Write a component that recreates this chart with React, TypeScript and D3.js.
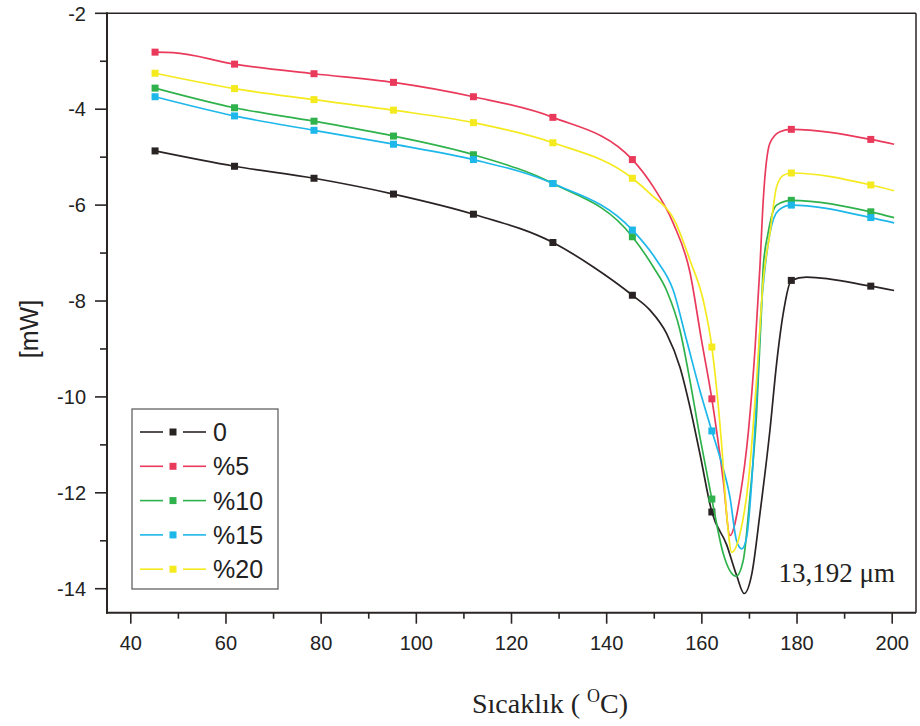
import React from "react";
import * as d3 from "d3";

// ---- data ----
const MARKER_T = [45.1, 61.8, 78.5, 95.2, 112.0, 128.7, 145.4, 162.1, 178.8, 195.5];

const T0 = [45.1, 61.8, 78.5, 95.2, 112.0, 128.7, 137.2, 145.4, 149.1, 152.6, 155.4, 157.5, 159.6, 162.1, 165.2, 167.3, 168.9, 170.5, 172.2, 174.3, 175.7, 177.1, 178.8, 182.0, 195.5, 200.4];
const V0 = [-4.87, -5.19, -5.44, -5.77, -6.19, -6.78, -7.29, -7.88, -8.19, -8.68, -9.38, -10.21, -11.19, -12.40, -13.08, -13.72, -14.1, -13.69, -12.44, -10.7, -9.31, -8.26, -7.57, -7.5, -7.69, -7.78];

const T5 = [45.1, 48.9, 61.8, 78.5, 95.2, 112.0, 128.7, 145.4, 149.8, 154.0, 157.5, 159.9, 162.1, 164.5, 165.9, 168.0, 169.8, 171.2, 172.2, 172.9, 174.3, 176.4, 178.8, 195.5, 200.4];
const V5 = [-2.81, -2.82, -3.06, -3.26, -3.44, -3.74, -4.17, -5.05, -5.62, -6.38, -7.4, -8.8, -10.04, -11.74, -12.89, -12.09, -10.7, -8.96, -7.29, -5.9, -4.71, -4.47, -4.42, -4.63, -4.73];

const T10 = [45.1, 61.8, 78.5, 95.2, 112.0, 128.7, 145.4, 149.8, 152.6, 155.4, 157.5, 159.6, 162.1, 164.5, 167.2, 168.7, 170.1, 171.5, 172.5, 172.9, 173.9, 175.7, 178.8, 195.5, 200.4];
const V10 = [-3.56, -3.97, -4.25, -4.56, -4.95, -5.55, -6.66, -7.29, -7.78, -8.61, -9.66, -10.84, -12.13, -13.27, -13.74, -13.41, -12.09, -10.35, -8.26, -7.29, -6.59, -6.0, -5.9, -6.14, -6.26];

const T15 = [45.1, 61.8, 78.5, 95.2, 112.0, 128.7, 145.4, 150.5, 154.0, 156.8, 159.6, 162.1, 163.8, 165.9, 167.3, 168.4, 169.4, 170.5, 171.5, 172.5, 173.3, 174.3, 176.1, 178.8, 195.5, 200.4];
const V15 = [-3.74, -4.14, -4.44, -4.73, -5.05, -5.55, -6.52, -7.15, -7.78, -8.82, -9.87, -10.71, -11.26, -12.09, -13.0, -13.17, -12.93, -11.74, -10.0, -8.13, -7.29, -6.59, -6.11, -6.0, -6.26, -6.37];

const T20 = [45.1, 61.8, 78.5, 95.2, 112.0, 128.7, 145.4, 149.1, 154.4, 157.5, 160.3, 162.1, 164.2, 165.2, 166.3, 168.0, 169.8, 171.5, 172.9, 174.3, 175.7, 177.1, 178.8, 195.5, 200.4];
const V20 = [-3.25, -3.57, -3.8, -4.02, -4.28, -4.7, -5.44, -5.76, -6.35, -7.15, -7.99, -8.96, -11.05, -12.44, -13.24, -12.86, -11.74, -9.65, -7.57, -6.59, -5.62, -5.38, -5.33, -5.58, -5.7];

const SERIES_NAMES = ["0", "%5", "%10", "%15", "%20"];
const SERIES_COLORS = ["#2a2323", "#ea3a5c", "#2fb24c", "#1db7ea", "#f4ea1e"];
const SERIES_T = [T0, T5, T10, T15, T20];
const SERIES_V = [V0, V5, V10, V15, V20];

const X_TICKS = [40, 60, 80, 100, 120, 140, 160, 180, 200];
const X_MINOR = [50, 70, 90, 110, 130, 150, 170, 190];
const Y_TICKS = [-14, -12, -10, -8, -6, -4, -2];
const Y_MINOR = [-13, -11, -9, -7, -5, -3];

const X_LABEL = "Sıcaklık ( ";
const Y_LABEL = "[mW]";
const NOTE = "13,192 μm";

export default function App() {
  const left = 107, right = 916, top = 13.3, bottom = 612.7;
  const x = d3.scaleLinear().domain([35, 205]).range([left, right]);
  const y = d3.scaleLinear().domain([-14.5, -2]).range([bottom, top]);
  const line = d3
    .line<[number, number]>()
    .x((d) => x(d[0]))
    .y((d) => y(d[1]))
    .curve(d3.curveMonotoneX);

  const sans = "'Liberation Sans', Arial, sans-serif";
  const serif = "'Liberation Serif', 'Times New Roman', serif";
  const axisColor = "#2b2424";
  const ms = 7;

  const series = SERIES_NAMES.map((name, i) => {
    const pts: [number, number][] = SERIES_T[i].map((t, j) => [t, SERIES_V[i][j]]);
    const markers = pts.filter((p) => MARKER_T.includes(p[0]));
    return { name, color: SERIES_COLORS[i], pts, markers };
  });

  const legX = 132, legY = 409, legW = 146, legH = 180;

  return (
    <svg
      width={920}
      height={726}
      style={{ position: "absolute", left: 0, top: 0, background: "#fff" }}
    >
      <rect x={0} y={0} width={920} height={726} fill="#fff" />
      {/* series */}
      {series.map((s) => (
        <g key={s.name}>
          <path d={line(s.pts) || ""} fill="none" stroke={s.color} strokeWidth={1.7} />
          {s.markers.map((p, k) => (
            <rect
              key={k}
              x={x(p[0]) - ms / 2}
              y={y(p[1]) - ms / 2}
              width={ms}
              height={ms}
              fill={s.color}
            />
          ))}
        </g>
      ))}

      {/* frame */}
      <line x1={left} x2={right} y1={top} y2={top} stroke={axisColor} strokeWidth={1.5} />
      <line x1={right} x2={right} y1={top} y2={bottom} stroke={axisColor} strokeWidth={1.5} />
      <line x1={left} x2={left} y1={top - 1} y2={bottom + 1} stroke={axisColor} strokeWidth={2} />
      <line x1={left - 1} x2={right} y1={bottom} y2={bottom} stroke={axisColor} strokeWidth={2} />

      {/* x ticks */}
      {X_TICKS.map((t) => (
        <g key={"xt" + t}>
          <line x1={x(t)} x2={x(t)} y1={bottom} y2={bottom + 11} stroke={axisColor} strokeWidth={1.6} />
          <text x={x(t)} y={bottom + 37} textAnchor="middle" fontFamily={sans} fontSize={20} fill="#222">
            {t}
          </text>
        </g>
      ))}
      {X_MINOR.map((t) => (
        <line key={"xm" + t} x1={x(t)} x2={x(t)} y1={bottom} y2={bottom + 6} stroke={axisColor} strokeWidth={1.6} />
      ))}

      {/* y ticks */}
      {Y_TICKS.map((t) => (
        <g key={"yt" + t}>
          <line x1={left - 12} x2={left} y1={y(t)} y2={y(t)} stroke={axisColor} strokeWidth={1.6} />
          <text
            x={left - 21}
            y={y(t)}
            dy="0.36em"
            textAnchor="end"
            fontFamily={sans}
            fontSize={20}
            fill="#222"
          >
            {t < 0 ? "-" + Math.abs(t) : t}
          </text>
        </g>
      ))}
      {Y_MINOR.map((t) => (
        <line key={"ym" + t} x1={left - 7} x2={left} y1={y(t)} y2={y(t)} stroke={axisColor} strokeWidth={1.6} />
      ))}

      {/* axis titles */}
      <text
        transform={`translate(38,329) rotate(-90)`}
        textAnchor="middle"
        fontFamily={sans}
        fontSize={25}
        fill="#222"
      >
        {Y_LABEL}
      </text>
      <text x={550} y={713} textAnchor="middle" fontFamily={serif} fontSize={28} fill="#222">
        {X_LABEL}
        <tspan fontSize={18} dy={-11}>O</tspan>
        <tspan dy={11}>C)</tspan>
      </text>

      {/* note */}
      <text x={895} y={582} textAnchor="end" fontFamily={serif} fontSize={27} fill="#222">
        {NOTE}
      </text>

      {/* legend */}
      <rect x={legX} y={legY} width={legW} height={legH} fill="#fff" stroke="#555" strokeWidth={1.2} />
      {series.map((s, i) => {
        const cy = 432 + i * 34.3;
        return (
          <g key={"lg" + s.name}>
            <line x1={140} x2={163} y1={cy} y2={cy} stroke={s.color} strokeWidth={1.6} />
            <line x1={183} x2={206} y1={cy} y2={cy} stroke={s.color} strokeWidth={1.6} />
            <rect x={173 - ms / 2} y={cy - ms / 2} width={ms} height={ms} fill={s.color} />
            <text x={213} y={cy} dy="0.36em" fontFamily={sans} fontSize={25} fill="#222">
              {s.name}
            </text>
          </g>
        );
      })}
    </svg>
  );
}
